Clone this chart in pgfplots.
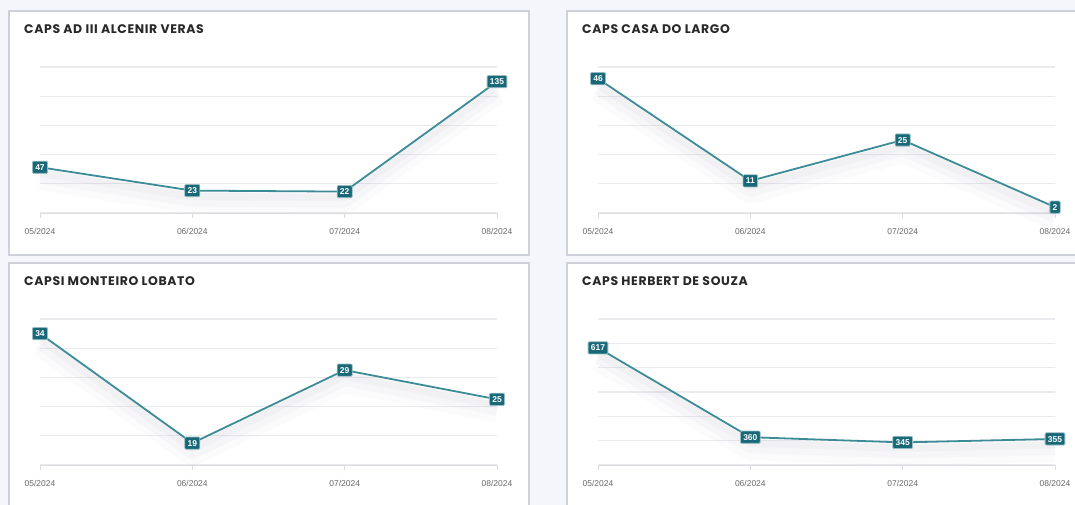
\documentclass[border=0pt]{standalone}
\usepackage{pgfplots}
\pgfplotsset{compat=1.18}
\usepackage{pgfplotstable}
\usepackage{fontspec}
\setmainfont{Liberation Sans}
\newfontfamily\titlefont{Poppins}[LetterSpace=5]

\definecolor{bg}{RGB}{245,246,251}
\definecolor{panelborder}{RGB}{206,209,217}
\definecolor{gridc}{RGB}{234,235,239}
\definecolor{axc}{RGB}{220,221,226}
\definecolor{linec}{RGB}{60,140,152}
\definecolor{labc}{RGB}{24,104,120}
\definecolor{tickc}{RGB}{105,105,105}
\definecolor{titlec}{RGB}{40,40,40}
\definecolor{shadowc}{RGB}{110,105,140}

\pgfplotstableread{
x y
0 47
1 23
2 22
3 135
}\tA
\pgfplotstableread{
x y
0 46
1 11
2 25
3 2
}\tB
\pgfplotstableread{
x y
0 34
1 19
2 29
3 25
}\tC
\pgfplotstableread{
x y
0 617
1 360
2 345
3 355
}\tD

\pgfplotsset{
  panel/.style={
    scale only axis, width=457bp, clip=false, anchor=south west,
    xmin=0, xmax=3,
    /pgf/number format/assume math mode=true,
    axis x line*=bottom, axis y line*=left,
    y axis line style={draw=none},
    x axis line style={draw=axc, line width=1bp, -},
    xtick={0,1,2,3},
    xticklabels={05/2024,06/2024,07/2024,08/2024},
    xtick style={draw=axc, line width=1bp},
    tick align=outside, major tick length=5bp,
    ytick style={draw=none}, yticklabels={},
    ymajorgrids,
    major grid style={draw=gridc, line width=1.2bp},
    xticklabel style={font=\fontsize{8.5}{9}\selectfont, text=tickc, yshift=-7bp},
  },
  shad/.style={draw=shadowc, line join=round, forget plot, mark=none},
  mainline/.style={linec, line width=1.8bp, mark=none, nodes near coords,
    every node near coord/.append style={anchor=center, fill=labc,
      draw=white!55!labc, line width=0.8bp, text=white,
      font=\bfseries\fontsize{8.5}{9}\selectfont,
      inner xsep=2.8bp, inner ysep=3bp, rounded corners=1bp,
      text height=6.2bp, text depth=0bp}},
}

\newcommand{\shadows}[1]{%
  \addplot[shad, opacity=0.025, line width=22bp, yshift=-12bp] table {#1};
  \addplot[shad, opacity=0.03, line width=14bp, yshift=-9bp] table {#1};
  \addplot[shad, opacity=0.035, line width=7bp, yshift=-6bp] table {#1};
}

\begin{document}
\begin{tikzpicture}
\useasboundingbox (0,0) rectangle (1075bp,-505bp);
\clip (0,0) rectangle (1075bp,-505bp);
\fill[bg] (0,0) rectangle (1075bp,-505bp);
\draw[panelborder, line width=1.5bp, fill=white] (9bp,-11bp) rectangle (529bp,-255bp);
\draw[panelborder, line width=1.5bp, fill=white] (567bp,-11bp) rectangle (1090bp,-255bp);
\draw[panelborder, line width=1.5bp, fill=white] (9bp,-263bp) rectangle (529bp,-520bp);
\draw[panelborder, line width=1.5bp, fill=white] (567bp,-263bp) rectangle (1090bp,-520bp);

\tikzset{ttl/.style={anchor=base west, inner sep=0, text=titlec, font=\titlefont\bfseries\fontsize{12.5}{14}\selectfont}}
\node[ttl] at (24bp,-33bp) {CAPS AD III ALCENIR VERAS};
\node[ttl] at (582bp,-33bp) {CAPS CASA DO LARGO};
\node[ttl] at (24bp,-285bp) {CAPSI MONTEIRO LOBATO};
\node[ttl] at (582bp,-285bp) {CAPS HERBERT DE SOUZA};

% top-left
\begin{axis}[panel, at={(40bp,-213bp)}, height=146bp, ymin=0, ymax=150, ytick={0,30,...,150}]
\shadows{\tA}
\addplot[mainline] table {\tA};
\end{axis}
% top-right
\begin{axis}[panel, at={(598bp,-213bp)}, height=146bp, ymin=0, ymax=50, ytick={0,10,...,50}]
\shadows{\tB}
\addplot[mainline] table {\tB};
\end{axis}
% bottom-left
\begin{axis}[panel, at={(40bp,-465bp)}, height=146bp, ymin=16, ymax=36, ytick={16,20,...,36}]
\shadows{\tC}
\addplot[mainline] table {\tC};
\end{axis}
% bottom-right
\begin{axis}[panel, at={(598bp,-465bp)}, height=146bp, ymin=280, ymax=700, ytick={280,350,...,700}]
\shadows{\tD}
\addplot[mainline] table {\tD};
\end{axis}
\end{tikzpicture}
\end{document}
